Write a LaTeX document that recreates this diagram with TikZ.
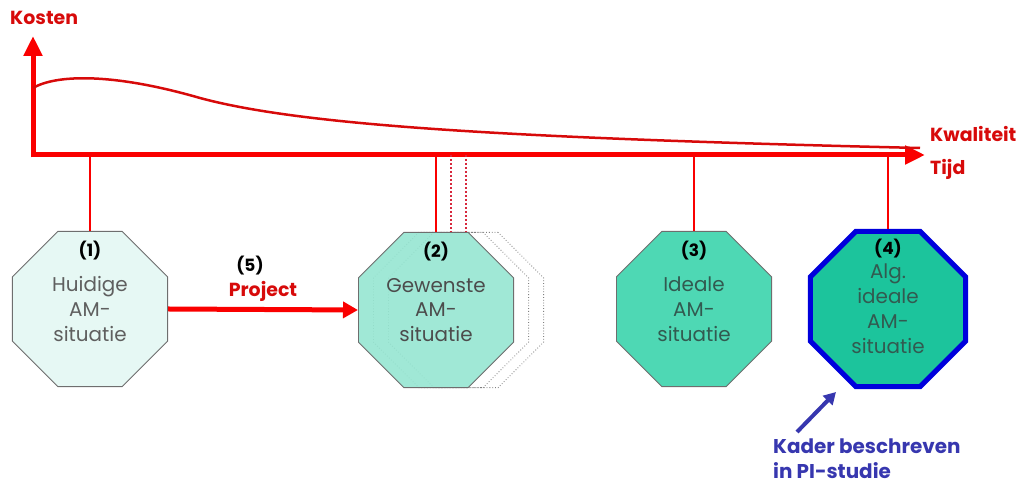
\documentclass[tikz,border=0pt]{standalone}
\usepackage{fontspec}
\setmainfont{Poppins}
\usetikzlibrary{arrows.meta,positioning,shapes.geometric}
\definecolor{axisred}{RGB}{250,0,0}
\definecolor{labelred}{RGB}{215,10,10}
\definecolor{tickred}{RGB}{215,40,60}
\definecolor{octline}{RGB}{110,110,110}
\definecolor{situtext}{RGB}{95,95,95}
\definecolor{darktext}{RGB}{50,90,80}
\definecolor{fillone}{RGB}{230,248,244}
\definecolor{filltwo}{RGB}{150,230,210}
\definecolor{fillthree}{RGB}{78,216,180}
\definecolor{fillfour}{RGB}{28,196,156}
\definecolor{kaderblue}{RGB}{0,0,220}
\definecolor{noteblue}{RGB}{55,55,175}
\tikzset{>={Triangle[length=20bp,width=18bp]}}
\tikzset{situ/.style={regular polygon, regular polygon sides=8,
    minimum size=168bp, inner sep=0pt, draw=octline, line width=0.8bp, align=center,
    text=situtext, font=\fontsize{20}{25}\selectfont}}
\tikzset{numlbl/.style={font=\fontsize{17}{18}\selectfont\bfseries, text=black, inner sep=0pt}}
\tikzset{axislbl/.style={font=\fontsize{19}{20}\selectfont\bfseries, text=labelred, anchor=west, inner sep=0pt}}
\tikzset{tick/.style={draw=axisred, line width=2bp}}

\begin{document}
\begin{tikzpicture}[x=1bp,y=-1bp]
      \useasboundingbox (0,0) rectangle (1019,484);
      \coordinate (o) at (33,155);
      \coordinate (xend) at (925,155);
      \coordinate (yend) at (33,36);
      % axes
      \draw[->,axisred,line width=5bp] (o) -- (xend);
      \draw[->,axisred,line width=5bp] ([yshift=-2.5bp]o) -- (yend);
      \draw[labelred,line width=2.5bp] (33,88) .. controls (55,75) and (110,72) .. (200,98)
            .. controls (300,125) and (500,138) .. (920,148);
      \node[axislbl] (kosten) at (10,18) {Kosten};
      \node[axislbl] (kwal) at (930,134) {Kwaliteit};
      \node[axislbl] (tijd) at (930,169) {Tijd};
      % situaties
      \node[situ, fill=fillone] (h1) at (90,309) {Huidige\\AM-\\situatie};
      \node[situ, draw=gray, dotted, line width=0.8bp] (h2c) at (466,310) {};
      \node[situ, draw=gray, dotted, line width=0.8bp] (h2b) at (451,310) {};
      \node[situ, fill=filltwo, fill opacity=0.9, text opacity=1, text=situtext!80!black] (h2) at (436,310) {Gewenste\\AM-\\situatie};
      \node[situ, fill=fillthree, text=darktext] (h3) at (694,309) {Ideale\\AM-\\situatie};
      \node[situ, fill=fillfour, draw=kaderblue, line width=5bp, text=darktext] (h4) at (888,309) {Alg.\\ideale\\AM-\\situatie};
      \foreach \s/\n in {h1/1,h2/2,h3/3,h4/4}{
        \node[numlbl, below=10bp of \s.north] {(\n)};
        \draw[tick] (\s.north |- o) -- (\s.north);
      }
      \draw[tick, draw=tickred, dotted, line width=2.5bp] (h2b.north |- o) -- (h2b.north);
      \draw[tick, draw=tickred, dotted, line width=2.5bp] (h2c.north |- o) -- (h2c.north);
      % project
      \draw[-{Triangle[length=15bp,width=16bp]},axisred,line width=5bp] (h1.east) -- (h2.west);
      \node[numlbl] (nr5) at (250,266) {(5)};
      \node[axislbl, anchor=center] (proj) at (263,291) {Project};
      % kader
      \coordinate (kstart) at (797,432);
      \coordinate (ktip) at (836,392);
      \draw[-{Triangle[length=12bp,width=13bp]},noteblue,line width=4bp] (kstart) -- (ktip);
      \node[anchor=north west, align=left, inner sep=0pt, text=noteblue,
            font=\fontsize{20}{25}\selectfont\bfseries] (kader) at (773,439) {Kader beschreven\\in PI-studie};
    \end{tikzpicture}
\end{document}
